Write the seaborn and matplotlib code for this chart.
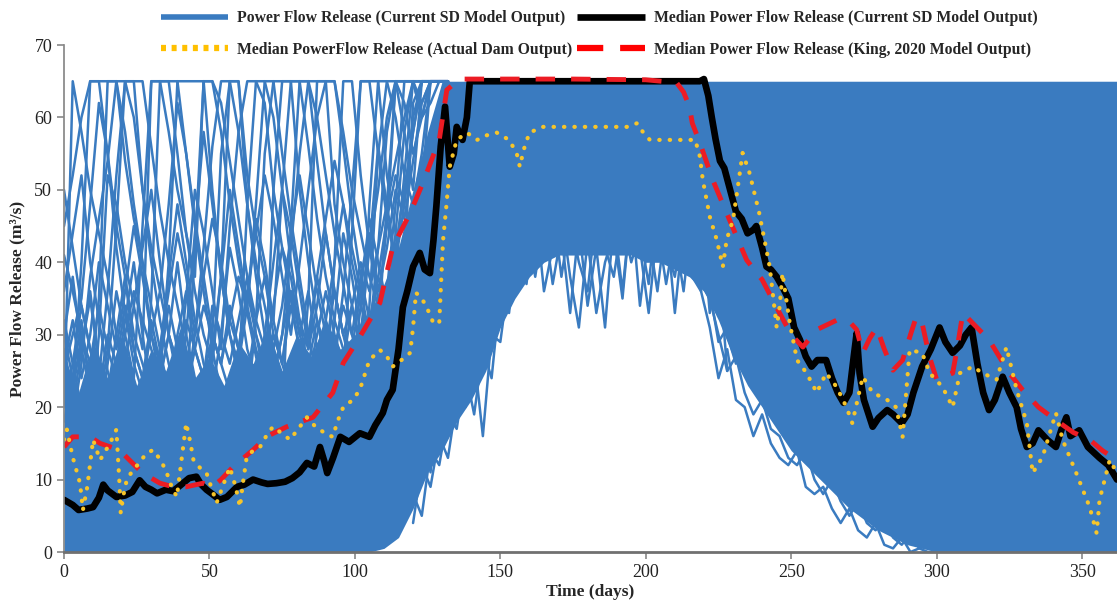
import numpy as np
import pandas as pd
import matplotlib
matplotlib.use("Agg")
import matplotlib.pyplot as plt
from matplotlib.lines import Line2D
import seaborn as sns

# ---- ensemble members, early season (days 0..132 every 3 days) ----
DAYS_L = list(range(0, 133, 3))
L1 = [41,36,30,24,20,28,45,65,65,65,56,47,40,34,28,22,18,30,55,65,65,52,44,38,32,26,22,20,35,65,65,65,58,50,44,38,34,45,65,65,65,60,65,65,65]
L2 = [20,65,58,50,44,38,30,24,20,18,35,65,65,65,55,45,36,28,22,18,24,48,65,65,60,50,40,32,25,20,22,40,65,65,52,42,35,30,26,40,62,65,65,65,65]
L3 = [28,22,40,65,65,65,65,54,46,40,34,28,22,18,20,42,65,65,58,48,40,33,27,22,50,65,65,65,65,54,44,36,30,25,22,34,55,65,65,58,50,65,65,65,65]
L4 = [32,26,20,16,30,52,48,40,34,28,65,65,58,50,44,38,65,65,62,54,46,38,30,24,20,18,45,65,65,60,52,44,37,30,25,48,65,65,60,52,48,55,65,65,65]
L5 = [25,30,35,48,62,55,42,33,26,22,18,24,40,65,65,65,65,50,38,30,24,20,32,55,65,65,65,50,40,32,26,20,24,44,65,65,65,52,44,38,34,50,65,65,65]
L6 = [18,24,32,22,18,26,36,30,24,45,65,65,65,55,44,36,30,26,38,65,65,48,38,30,24,30,42,55,65,65,65,48,40,34,28,24,30,48,65,65,65,65,65,65,65]
L7 = [36,44,52,40,32,25,20,26,34,42,50,40,30,24,35,50,44,36,28,45,58,65,65,62,50,42,35,28,30,38,46,54,48,40,34,30,42,58,65,62,55,60,65,65,65]
L8 = [22,18,26,38,46,54,65,65,60,50,42,36,48,62,55,46,38,30,26,22,28,36,44,52,46,38,30,40,50,60,65,65,56,46,38,32,28,36,48,65,65,60,62,65,65]
L9 = [30,38,28,22,35,65,65,58,48,40,30,24,30,40,30,24,20,28,38,50,42,34,48,65,65,55,46,38,30,24,20,32,44,38,30,42,56,48,40,52,65,65,65,65,65]
L10 = [15,20,28,36,26,20,24,32,40,30,22,28,38,48,40,32,26,22,30,42,36,28,24,30,40,50,44,36,28,34,44,36,30,28,36,46,40,34,44,58,65,62,65,65,65]
L11 = [26,32,24,30,40,34,28,36,45,38,30,26,34,28,22,30,38,46,40,32,28,36,30,26,34,42,38,30,36,28,32,40,48,42,36,30,38,46,52,48,58,65,65,65,65]
L12 = [20,26,34,28,22,30,26,34,28,24,30,36,30,26,32,28,24,34,30,26,32,38,32,28,24,30,36,30,26,32,28,36,30,34,40,36,42,48,54,60,65,65,65,65,65]
L13 = [30,24,28,35,26,22,30,38,28,24,32,26,22,30,36,28,24,30,26,34,28,24,32,38,30,26,34,28,24,30,36,30,26,34,28,32,38,34,42,50,58,65,65,65,65]
L14 = [45,52,60,65,65,55,45,38,30,26,22,28,36,44,38,30,42,56,65,65,58,48,40,34,28,34,44,52,44,36,30,26,36,50,65,65,55,46,40,48,60,65,65,65,65]
L15 = [50,42,34,28,24,36,52,65,65,50,40,32,26,22,30,44,58,48,38,30,26,34,46,40,32,50,65,65,56,46,38,32,28,24,34,42,50,60,65,65,65,65,65,65,65]
L16 = [26,22,30,26,34,28,24,30,36,32,28,24,30,26,22,28,34,30,26,32,38,34,28,24,30,26,36,32,28,38,32,28,34,30,38,44,36,42,50,46,54,62,65,65,65]

# ---- ensemble members, mid season (days 120..228 every 3 days) ----
DAYS_M = list(range(120, 229, 3))
M1 = [4,12,9,16,13,21,20,27,16,30,29,38,36,45,38,46,37,44,33,45,34,42,31,46,36,48,34,44,36,46,33,45,38,47,33,40,25]
M2 = [8,5,14,12,19,17,25,19,28,24,36,33,44,37,48,36,42,47,38,31,43,33,40,44,35,48,42,33,45,37,44,36,47,40,36,29,31]
M3 = [12,18,11,22,20,28,24,32,26,34,40,36,46,40,50,42,48,38,46,40,36,47,42,38,46,40,44,37,48,42,38,46,42,36,44,38,34]
M4 = [18,14,24,20,28,22,32,28,38,30,46,42,52,44,55,46,50,43,52,42,48,44,54,42,50,46,42,52,46,41,48,42,50,40,45,42,38]

# ---- ensemble members, recession (days 216..300 every 3 days) ----
DAYS_R = list(range(216, 301, 3))
R1 = [38,36,31,24,28,21,20,16,19,15,13,12,14,9,8,9,6,4,6,3,2,4,1,0.5,2,0,0.5,0,0]
R2 = [39,37,35,30,25,27,22,19,21,17,16,13,12,14,10,8,10,7,5,7,4,3,4.5,2,1,2.5,0.5,1,0]
R3 = [40,39,38,33,30,26,28,23,21,22,18,16,17,13,12,13,9,8,9,6,5,6,3,3.5,2,1.5,2,0.5,1]

# ---- dense core of the ensemble (days 0..365 every 5 days) ----
CORE_DAYS = list(range(0, 366, 5))
CORE_LOW = [0]*22 + [0.5,2,6,11,14,18,21,25,31,35,38,40,41,41,41,41,41,41,40,40,
                     39,38,36,32,27,23,20,17,14,12,10,8,6,4.5,3,2,1,0.5,0] + [0]*13
CORE_HIGH = [27,22,29,24,30,23,28,25,31,24,27,23,29,26,31,25,30,27,32,28,
             30,33,37,42,50,58] + [65]*48

# ---- median: current SD model ----
SD_DAYS = [0,3,5,8,10,12,13.5,15,18,21,23.5,26,28,30,32,35,37.5,40,43,45.5,47,49,51,53.5,56,59.5,62,65,68,70,73,76,78.5,81,83.5,86,88,89.5,90.5,92.5,95,98,101.7,105,107,109.6,111,113,115,116.5,118,120,122.3,124,125.8,127,128,129.5,131,132.6,134,135,137,138.5,139.5,150,175,200,218.6,220,221.5,222.7,224,225.5,227,229,231,233,235,237,238,240,241.5,243,245,247,249,251,253,255,257,259,262,264,266,268,270,271.5,272.5,273.5,275,278,280,283,285,288,290,292,295,298,301,303,305.5,308,310,312,314,316,318,320,322.7,325,327.5,329,331,333,335,338,341,343,344.6,346,349,352,356,359,362]
SD_MED = [7.2,6.5,5.8,6.0,6.2,7.5,9.3,8.5,7.6,7.8,8.3,9.9,9.0,8.6,8.1,8.6,8.4,9.2,10.2,10.4,9.4,8.6,8.0,7.2,7.6,9.0,9.3,10.0,9.6,9.4,9.5,9.7,10.2,11.0,12.3,11.8,14.5,12.5,10.9,13.0,15.9,15.2,16.4,15.9,17.5,19.2,21,22.4,28,33.8,36,39.4,41.3,39,38.5,43,47.7,56,61.5,53.2,55,58.7,56.9,60,65,65,65,65,65,65.3,63,60,57,54,53,50,47,46,44,44.5,45,42,39.4,39,38,36.6,35,31,29.3,27,25.6,26.5,26.5,24,22,20.6,22,27,30.2,24.7,21,17.3,18.5,19.6,19,17.8,19,22,25.6,28,31,29,27.5,28.5,30,31,26,22,19.6,21,24.2,22,20,17,14.5,15,16.8,15.5,14.5,17,18.6,16,16.8,14.5,13,12,10]

# ---- median: King, 2020 model ----
KING_DAYS = [0,3,9,12.4,19,23,27,33,37.5,42,47.8,51,54,58,65,70,76.6,85.6,92.4,96,101.7,108.6,113,119,123.4,129,131.6,136,150,175,200,210.6,213,215,216,218.6,223,227.8,234.7,240,246,250,254,258.8,265.6,270,272.5,274.6,277,279.4,282,285,288.3,291,293,295,297.5,300,305.5,307,309,312.4,318,325,329.5,335,341,347,352.6,357,362]
KING_MED = [14.5,15.9,15.9,15,14.1,12.5,10.9,9.5,9.0,9.0,9.5,9,10,11.7,14.1,16,17.3,18.6,22,26.1,29.7,34.4,42.1,46.8,51,56.9,63.8,65.3,65.3,65.3,65.2,64.8,63.5,61.5,59.2,56.5,51.4,46.8,40.3,37.6,33,30,28.3,30.7,32,31.8,30.7,27.5,29.5,31,28,25.1,26.5,30,32.5,31.6,27,23.8,24.7,28,33,31.6,29.3,24.7,22.4,20,18.2,16.5,15.5,14,12.7]

# ---- median: actual dam output ----
DAM_DAYS = [0,1,3,5.5,6.5,8,10,12.4,15.8,18,19,19.5,20.5,21.6,24,26,28,30.6,33,35,37,38.8,40.5,42,43.5,44.5,47,49,51,52.5,54.5,57,59,60.5,61.5,62.8,65,67.4,69.5,71.8,74.5,77.7,80.5,83.5,86,88,90,92.4,94,96,99.3,101.7,105,108.6,111,113,116,119,120,121,123,124.7,127,129,130.3,131.5,132.6,135,138.5,142,145,148.8,153,155.6,156.7,158,160,164.6,178,193.5,197,199,201.4,210,217,218.6,219.6,222,224.4,226.5,227.8,230,231.5,233.3,235.7,239,242.6,245,246,247,249.5,252,255.3,258.8,262,265.6,269,271,274.6,278,283,286,288.3,290.7,295,297.6,302,305.5,308,312.4,315.8,320.6,324,327.5,331,333,336.4,341,343.3,348,352.6,355,356,359.5,362]
DAM_MED = [15.5,16.9,13.1,9.5,5.8,9,15.5,12.7,15,16.9,10,5.4,8,10,11.5,12.3,13.5,14.1,12.8,11.3,9,7.6,13,17.8,15,12.7,11.5,10.9,8.5,6.8,9,11.7,9,6.2,9.5,13.1,14,14.5,16,17.3,16.5,15.5,17,18.6,17.5,16.9,16.3,15.9,18,20,21,22.4,26.5,27.9,27,25.6,26.5,27.5,31,35.8,35,33.8,31.6,31.6,43,48,53.2,56.9,57.9,56.9,57.5,57.9,56.9,55.1,53.2,55.5,57.9,58.7,58.7,58.7,59.2,58,56.9,56.9,56.9,54.6,51.4,46.3,43.1,39.4,43.1,45.9,50,55.1,52.3,46.8,39.4,31,33.8,38.5,31.6,26.5,24.7,22,24.7,22.8,20,17.8,24.2,22,21,20,15.9,27.9,27.5,24.7,22.8,20,24.7,25.6,24.7,23.8,28.3,22.4,17.8,10.9,13.1,19.2,15.5,10.9,6.2,2.6,7.2,12.7,10.9]

BLUE = "#3a7bc0"
YELLOW = "#f7c52a"
RED = "#ec1c24"

sns.set_theme(style="ticks")
plt.rcParams["font.family"] = ["Liberation Serif", "DejaVu Serif"]

fig = plt.figure(figsize=(11.17, 6.06), dpi=100)
ax = fig.add_axes([0.0573, 0.0891, 0.9427, 0.8366])

# dense part of the ensemble
ax.fill_between(CORE_DAYS, CORE_LOW, CORE_HIGH, color=BLUE, lw=0)

early = [L1, L2, L3, L4, L5, L6, L7, L8, L9, L10, L11, L12, L13, L14, L15, L16]
for member in early:
    sns.lineplot(x=DAYS_L, y=member, ax=ax, color=BLUE, lw=1.8, estimator=None)
for member in [M1, M2, M3, M4]:
    sns.lineplot(x=DAYS_M, y=member, ax=ax, color=BLUE, lw=1.8, estimator=None)
for member in [R1, R2, R3]:
    sns.lineplot(x=DAYS_R, y=member, ax=ax, color=BLUE, lw=1.8, estimator=None)

sns.lineplot(x=SD_DAYS, y=SD_MED, ax=ax, color="black", lw=4.8, estimator=None)
sns.lineplot(x=KING_DAYS, y=KING_MED, ax=ax, color=RED, lw=3.5, estimator=None,
             linestyle=(0, (4, 3.3)))
sns.lineplot(x=DAM_DAYS, y=DAM_MED, ax=ax, color=YELLOW, lw=3, estimator=None,
             linestyle=(0, (0.1, 2.4)), dash_capstyle="round")

ax.set_xlim(0, 362)
ax.set_ylim(0, 70)
ax.set_xticks(range(0, 351, 50))
ax.set_yticks(range(0, 71, 10))
ax.tick_params(labelsize=13, colors="#222222", length=5, width=1.2)
ax.tick_params(axis="both", color="#888888")
sns.despine(ax=ax)
ax.spines["left"].set_color("#888888")
ax.spines["bottom"].set_color("#707070")
ax.spines["bottom"].set_linewidth(2)
ax.set_xlabel("Time (days)", fontsize=12.5, fontweight="bold", labelpad=2)
ax.set_ylabel("Power Flow Release (m³/s)", fontsize=12.5, fontweight="bold", labelpad=6)

handles = [
    Line2D([], [], color=BLUE, lw=4, solid_capstyle="butt"),
    Line2D([], [], color="#ffc000", lw=4.5, linestyle=(0, (0.8, 0.9)), dash_capstyle="butt"),
    Line2D([], [], color="black", lw=4.8, solid_capstyle="butt"),
    Line2D([], [], color="#ff0000", lw=4.5, linestyle=(0, (4.2, 2.7)), dash_capstyle="butt"),
]
labels = [
    "Power Flow Release (Current SD Model Output)",
    "Median PowerFlow Release (Actual Dam Output)",
    "Median Power Flow Release (Current SD Model Output)",
    "Median Power Flow Release (King, 2020 Model Output)",
]
fig.legend(handles, labels, ncol=2, loc="upper left", bbox_to_anchor=(0.1325, 1.004),
           frameon=False, prop={"weight": "bold", "size": 11.3},
           handlelength=4.3, handletextpad=0.55, columnspacing=0.35,
           labelspacing=1.0, borderpad=0.3)

fig.savefig("out.png", dpi=100, facecolor="white")
